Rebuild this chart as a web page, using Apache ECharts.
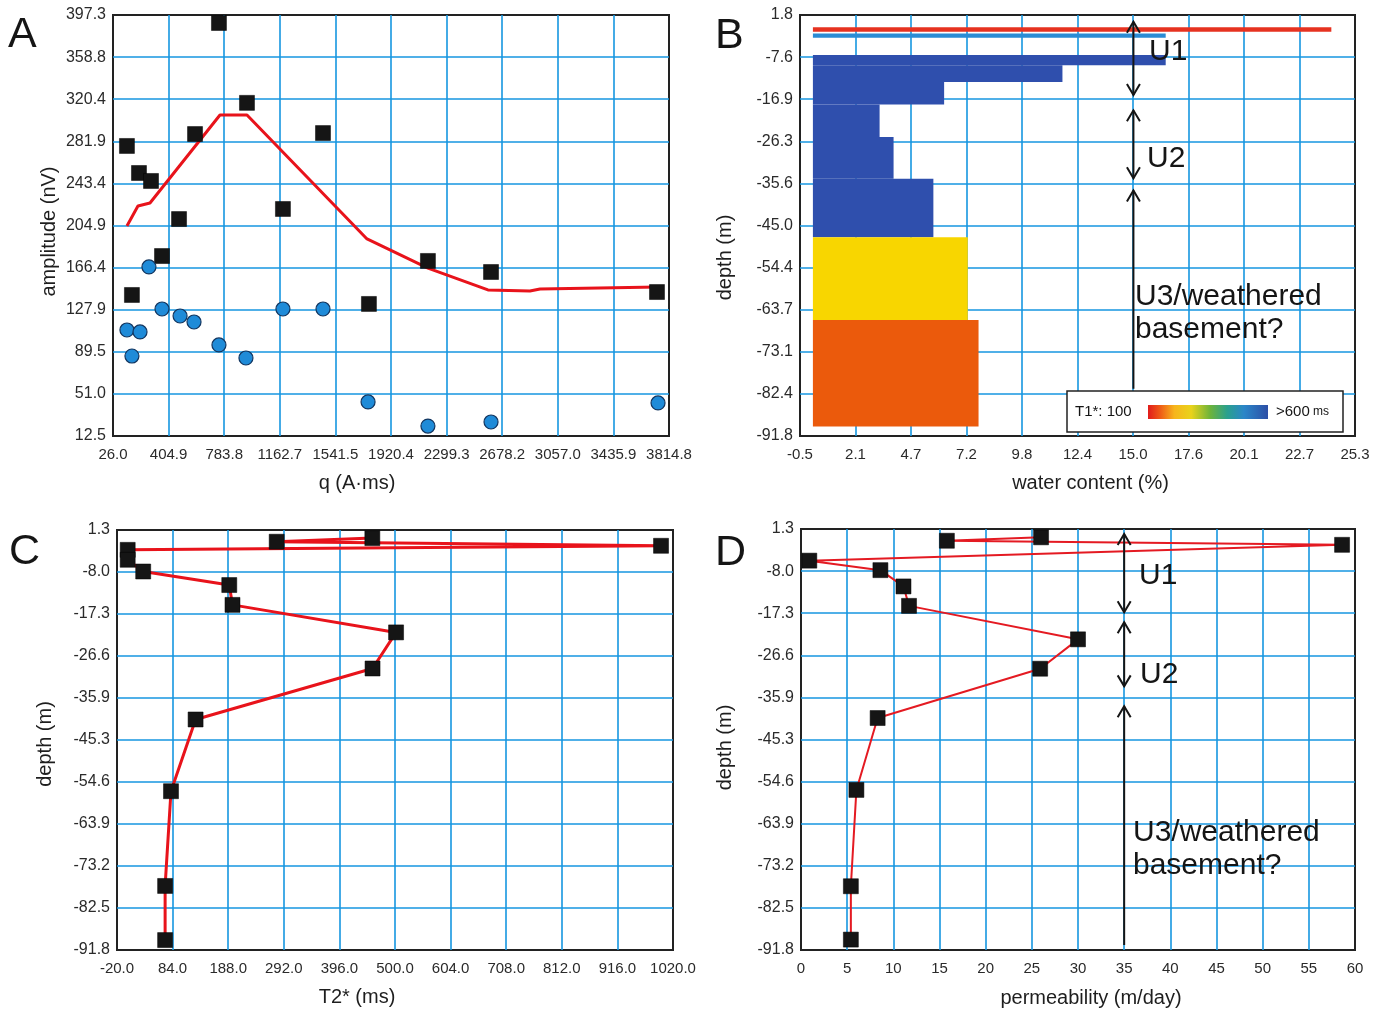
<!DOCTYPE html>
<html><head><meta charset="utf-8">
<script src="https://cdn.jsdelivr.net/npm/echarts@6/dist/echarts.min.js"></script>
<style>html,body{margin:0;padding:0;background:#fff;}#c{width:1386px;height:1012px;}</style>
</head><body><div id="c"></div>
<script>
// ---------- Panel A : amplitude vs pulse moment ----------
const aXTicks = ['26.0','404.9','783.8','1162.7','1541.5','1920.4','2299.3','2678.2','3057.0','3435.9','3814.8'];
const aYTicks = ['12.5','51.0','89.5','127.9','166.4','204.9','243.4','281.9','320.4','358.8','397.3'];
const aSquareQ   = [121, 203, 285, 585, 748, 939, 1457, 1184, 476, 360, 155, 1770, 2172, 2602, 3733];
const aSquareAmp = [277.6, 252.9, 245.6, 288.5, 390, 317, 289.4, 220, 210.8, 177, 141.4, 133.2, 172.5, 162.4, 144.1];
const aCircleQ   = [271, 360, 483, 578, 121, 210, 155, 748, 932, 1184, 1457, 1764, 2172, 2602, 3740];
const aCircleAmp = [167, 128.6, 122.2, 116.7, 109.4, 107.6, 85.6, 95.7, 83.8, 128.6, 128.6, 43.6, 21.6, 25.3, 42.7];
const aFitQ   = [121, 196, 278, 755, 939, 1757, 2172, 2581, 2867, 2936, 3740];
const aFitAmp = [204.4, 222.7, 225.5, 305.9, 305.9, 192.6, 166, 146, 145, 146.9, 148.7];

// ---------- Panel B : water content vs depth ----------
const bXTicks = ['-0.5','2.1','4.7','7.2','9.8','12.4','15.0','17.6','20.1','22.7','25.3'];
const bYTicks = ['-91.8','-82.4','-73.1','-63.7','-54.4','-45.0','-35.6','-26.3','-16.9','-7.6','1.8'];
const bWater       = [24.2, 16.5, 16.5, 11.7, 6.2, 3.2, 3.85, 5.7, 7.3, 7.8];
const bDepthTop    = [-0.95, -2.3, -7.1, -9.35, -13.1, -18.1, -25.3, -34.6, -47.6, -66.0];
const bDepthBottom = [-1.9, -3.25, -9.35, -13.1, -18.1, -25.3, -34.6, -47.6, -66.0, -89.7];
const bT1Class     = [0, 5, 6, 6, 6, 6, 6, 6, 2, 1];   // index into T1* colour scale
const bBase = 0.1;

// ---------- Panel C : T2* vs depth ----------
const cXTicks = ['-20.0','84.0','188.0','292.0','396.0','500.0','604.0','708.0','812.0','916.0','1020.0'];
const cYTicks = ['-91.8','-82.5','-73.2','-63.9','-54.6','-45.3','-35.9','-26.6','-17.3','-8.0','1.3'];
const cT2    = [457.6, 278.7, 997.6, 0, 0, 29, 190, 196, 502, 458, 127, 81, 70, 70];
const cDepth = [-0.5, -1.3, -2.2, -3.1, -5.3, -7.9, -10.9, -15.3, -21.4, -29.4, -40.7, -56.6, -77.6, -89.6];

// ---------- Panel D : permeability vs depth ----------
const dXTicks = ['0','5','10','15','20','25','30','35','40','45','50','55','60'];
const dYTicks = cYTicks;
const dPerm  = [26.0, 15.8, 58.6, 0.9, 8.6, 11.1, 11.7, 30.0, 25.9, 8.3, 6.0, 5.4, 5.4];
const dDepth = [-0.54, -1.3, -2.2, -5.7, -7.8, -11.4, -15.7, -23.1, -29.6, -40.5, -56.4, -77.7, -89.5];

// ---------- annotations ----------
const unitArrowsB = [[15.0, 0.3, -16.0, 'both'], [15.0, -19.4, -34.5, 'both'], [15.0, -37.2, -81.3, 'up']];
const unitArrowsD = [[35, 0.2, -17.1, 'both'], [35, -19.3, -33.5, 'both'], [35, -37.9, -90.7, 'up']];

// ---------- styles ----------
const T1Colors = ['#e63220', '#eb5a0c', '#f8d600', '#5fb045', '#2aa08e', '#2b8cd4', '#2f4fad'];
const FONT = '"Liberation Sans", Arial, Helvetica, sans-serif';
const GRID_BLUE = '#1696e0';

function xAxis(gi, min, max, interval, labels, name, namePad, nameGap) {
  return {
    type: 'value', gridIndex: gi, min, max, interval,
    name, nameLocation: 'middle', nameGap,
    nameTextStyle: { fontSize: 20, color: '#1e1e1e', fontFamily: FONT, padding: namePad },
    axisLine: { show: false }, axisTick: { show: false },
    axisLabel: { fontSize: 15, color: '#2a2a2a', fontFamily: FONT, margin: 11, hideOverlap: false,
      showMinLabel: true, showMaxLabel: true,
      formatter: v => { const i = Math.round((v - min) / interval); return labels[i] ?? ''; } },
    splitLine: { show: true, showMinLine: false, showMaxLine: false, lineStyle: { color: GRID_BLUE, width: 1.6 } }
  };
}
function yAxis(gi, min, max, interval, labels, name, namePad, nameGap) {
  return {
    type: 'value', gridIndex: gi, min, max, interval,
    name, nameLocation: 'middle', nameGap,
    nameTextStyle: { fontSize: 20, color: '#1e1e1e', fontFamily: FONT, padding: namePad },
    axisLine: { show: false }, axisTick: { show: false },
    axisLabel: { fontSize: 16, color: '#2a2a2a', fontFamily: FONT, margin: 7, hideOverlap: false,
      showMinLabel: true, showMaxLabel: true,
      formatter: v => { const i = Math.round((v - min) / interval); return labels[i] ?? ''; } },
    splitLine: { show: true, showMinLine: false, showMaxLine: false, lineStyle: { color: GRID_BLUE, width: 1.6 } }
  };
}
const gridBase = { show: true, borderColor: '#222', borderWidth: 2, backgroundColor: 'transparent', containLabel: false, outerBoundsMode: 'none' };

const chart = echarts.init(document.getElementById('c'), null, { renderer: 'canvas' });
const option = {
  animation: false,
  backgroundColor: '#ffffff',
  grid: [
    Object.assign({ left: 113, top: 15, width: 556, height: 421 }, gridBase),
    Object.assign({ left: 800, top: 15, width: 555, height: 421 }, gridBase),
    Object.assign({ left: 117, top: 530, width: 556, height: 420 }, gridBase),
    Object.assign({ left: 801, top: 529, width: 554, height: 421 }, gridBase)
  ],
  xAxis: [
    xAxis(0, 26, 3814.8, 378.88, aXTicks, 'q (A·ms)', [0, 68, 0, 0], 37),
    xAxis(1, -0.5, 25.3, 2.58, bXTicks, 'water content (%)', [0, 0, 0, 26], 37),
    xAxis(2, -20, 1020, 104, cXTicks, 'T2* (ms)', [0, 76, 0, 0], 37),
    xAxis(3, 0, 60, 5, dXTicks, 'permeability (m/day)', [0, 0, 0, 26], 38)
  ],
  yAxis: [
    yAxis(0, 12.5, 397.3, 38.48, aYTicks, 'amplitude (nV)', [0, 12, 0, 0], 54),
    yAxis(1, -91.8, 1.8, 9.36, bYTicks, 'depth (m)', [0, 64, 0, 0], 65),
    yAxis(2, -91.8, 1.3, 9.31, cYTicks, 'depth (m)', [0, 8, 0, 0], 62),
    yAxis(3, -91.8, 1.3, 9.31, dYTicks, 'depth (m)', [0, 16, 0, 0], 66)
  ],
  series: [
    { type: 'line', xAxisIndex: 0, yAxisIndex: 0, data: aFitQ.map((q, i) => [q, aFitAmp[i]]),
      showSymbol: false, lineStyle: { color: '#e8131b', width: 3 }, z: 2 },
    { type: 'scatter', xAxisIndex: 0, yAxisIndex: 0, data: aSquareQ.map((q, i) => [q, aSquareAmp[i]]),
      symbol: 'rect', symbolSize: 15, itemStyle: { color: '#151515', borderColor: '#000', borderWidth: 0.5, opacity: 1 }, z: 3 },
    { type: 'scatter', xAxisIndex: 0, yAxisIndex: 0, data: aCircleQ.map((q, i) => [q, aCircleAmp[i]]),
      symbol: 'circle', symbolSize: 14, itemStyle: { color: '#1f8bd8', borderColor: '#12355f', borderWidth: 1.2, opacity: 1 }, z: 3 },
    { type: 'custom', xAxisIndex: 1, yAxisIndex: 1, clip: true,
      data: bWater.map((w, i) => [bBase, w, bDepthTop[i], bDepthBottom[i], bT1Class[i]]),
      encode: { x: [0, 1], y: [2, 3] },
      renderItem: (params, api) => {
        const p0 = api.coord([api.value(0), api.value(2)]);
        const p1 = api.coord([api.value(1), api.value(3)]);
        return { type: 'rect', shape: { x: p0[0], y: p0[1], width: p1[0] - p0[0], height: p1[1] - p0[1] },
          style: { fill: T1Colors[api.value(4)] } };
      }, z: 2 },
    { type: 'line', xAxisIndex: 2, yAxisIndex: 2, data: cT2.map((t, i) => [t, cDepth[i]]),
      symbol: 'rect', symbolSize: 15, showSymbol: true,
      lineStyle: { color: '#e8131b', width: 3 }, itemStyle: { color: '#151515', borderColor: '#000', borderWidth: 0.5 }, z: 2 },
    { type: 'line', xAxisIndex: 3, yAxisIndex: 3, data: dPerm.map((k, i) => [k, dDepth[i]]),
      symbol: 'rect', symbolSize: 15, showSymbol: true,
      lineStyle: { color: '#e41a22', width: 2 }, itemStyle: { color: '#151515', borderColor: '#000', borderWidth: 0.5 }, z: 2 }
  ]
};
chart.setOption(option);

// ---------- annotation graphics (positioned through the axes) ----------
function arrowEls(gi, spec) {
  const els = [];
  spec.forEach(([x, y1, y2, heads]) => {
    const a = chart.convertToPixel({ gridIndex: gi }, [x, y1]);
    const b = chart.convertToPixel({ gridIndex: gi }, [x, y2]);
    const st = { stroke: '#151515', lineWidth: 2, fill: null };
    els.push({ type: 'line', shape: { x1: a[0], y1: a[1], x2: b[0], y2: b[1] }, style: st, z: 10 });
    els.push({ type: 'polyline', shape: { points: [[a[0] - 6.5, a[1] + 11], [a[0], a[1]], [a[0] + 6.5, a[1] + 11]] }, style: st, z: 10 });
    if (heads === 'both') {
      els.push({ type: 'polyline', shape: { points: [[b[0] - 6.5, b[1] - 11], [b[0], b[1]], [b[0] + 6.5, b[1] - 11]] }, style: st, z: 10 });
    }
  });
  return els;
}
function txt(x, y, s, size, extra) {
  return Object.assign({ type: 'text', x, y, z: 11,
    style: { text: s, fontSize: size, fontFamily: FONT, fill: '#151515', verticalAlign: 'middle', align: 'left' } }, extra || {});
}
const gr = [];
gr.push(...arrowEls(1, unitArrowsB), ...arrowEls(3, unitArrowsD));
// panel letters
gr.push(txt(8, 35, 'A', 43), txt(715, 36, 'B', 43), txt(9, 552, 'C', 43), txt(715, 553, 'D', 43));
// unit labels B
gr.push(txt(1149, 52, 'U1', 30), txt(1147, 159, 'U2', 30), txt(1135, 297, 'U3/weathered', 30), txt(1135, 330, 'basement?', 30));
// unit labels D
gr.push(txt(1139, 576, 'U1', 30), txt(1140, 675, 'U2', 30), txt(1133, 833, 'U3/weathered', 30), txt(1133, 866, 'basement?', 30));
// T1* colour legend in B
gr.push({ type: 'rect', z: 11, shape: { x: 1067, y: 391, width: 276, height: 41 }, style: { fill: '#fff', stroke: '#222', lineWidth: 1.5 } });
gr.push({ type: 'rect', z: 12, shape: { x: 1148, y: 405, width: 120, height: 14 },
  style: { fill: new echarts.graphic.LinearGradient(0, 0, 1, 0, [
    { offset: 0, color: '#e11b1b' }, { offset: 0.1, color: '#ee5a16' }, { offset: 0.22, color: '#f7b51c' },
    { offset: 0.36, color: '#e9d31b' }, { offset: 0.52, color: '#6cb33b' }, { offset: 0.66, color: '#2aa08e' },
    { offset: 0.8, color: '#2b86c8' }, { offset: 1, color: '#2d4fa6' }]) } });
gr.push(txt(1075, 412, 'T1*: 100', 15, { z: 12 }));
gr.push({ type: 'text', x: 1276, y: 412, z: 12, style: { text: '{a|>600} {b|ms}', verticalAlign: 'middle',
  rich: { a: { fontSize: 15, fontFamily: FONT, fill: '#151515' }, b: { fontSize: 12, fontFamily: FONT, fill: '#151515' } } } });
chart.setOption({ graphic: gr });
</script></body></html>
